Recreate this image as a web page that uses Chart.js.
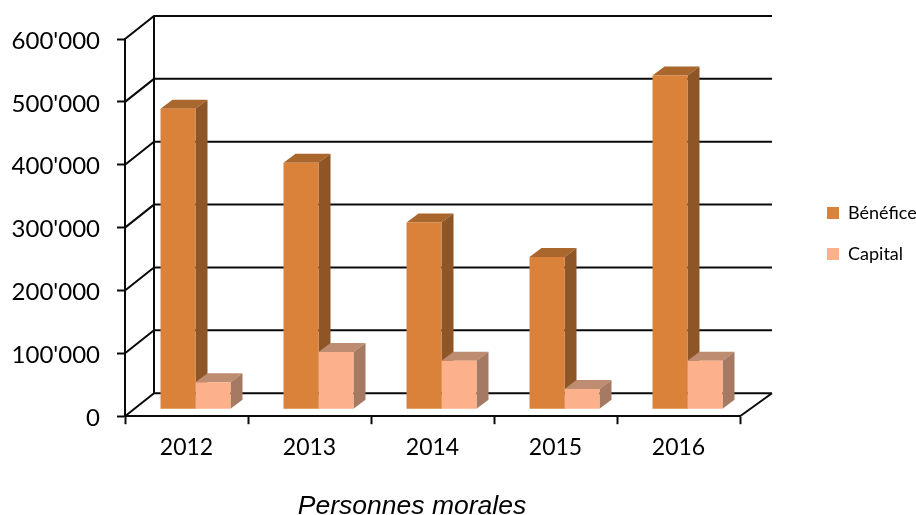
<!DOCTYPE html>
<html><head><meta charset="utf-8">
<style>html,body{margin:0;padding:0;background:#fff}#w{width:916px;height:515px}</style>
<script src="https://cdn.jsdelivr.net/npm/chart.js@4"></script>
</head><body><div id="w"><canvas id="c"></canvas></div>
<script>
const categories = ['2012','2013','2014','2015','2016'];
const benefice = [478000,392000,297000,242000,531000];
const capital = [43000,91000,77000,32000,77000];
const seriesNames = ['Bénéfice','Capital'];
const yTicks = [0,100000,200000,300000,400000,500000,600000];
const xTitle = 'Personnes morales';

const INK='#0a0a0a';
const fronts=['#DA8239','#FDB18B'];
const tops=['#A9662D','#BE8C70'];
const sides=['#8E5526','#A67A62'];
const WALL={dx:29,dy:23,rightDx:32};
const BAR={dx:12,dy:9,shiftX:9,shiftY:7};

const frame3d={
  id:'frame3d',
  afterLayout(chart){
    const l=chart.legend;
    if(l){const w=l.width,h=l.height;l.left=804;l.right=804+w;l.top=181;l.bottom=181+h;}
    const t=chart.titleBlock;
    if(t){const h=t.height;t.left=212;t.right=612;t.top=491;t.bottom=491+h;}
  },
  beforeDatasetsDraw(chart){
    const {ctx,scales:{x,y},chartArea:a}=chart;
    ctx.save();
    ctx.strokeStyle=INK;ctx.lineWidth=2;ctx.lineCap='butt';
    const L=a.left,R=a.right,B=WALL;
    ctx.beginPath();
    yTicks.forEach(v=>{
      const py=y.getPixelForValue(v);
      ctx.moveTo(L,py);ctx.lineTo(L+B.dx,py-B.dy);
      ctx.lineTo(R+B.rightDx,py-B.dy);
    });
    ctx.moveTo(L+B.dx,y.getPixelForValue(0)-B.dy);
    ctx.lineTo(L+B.dx,y.getPixelForValue(600000)-B.dy);
    ctx.moveTo(R,y.getPixelForValue(0));
    ctx.lineTo(R+B.rightDx,y.getPixelForValue(0)-B.dy);
    ctx.stroke();
    ctx.translate(BAR.shiftX,-BAR.shiftY);
    [0,1].forEach(ds=>{
      chart.getDatasetMeta(ds).data.forEach(el=>{
        const p=el.getProps(['x','y','base','width'],true);
        const x0=p.x-p.width/2,x1=p.x+p.width/2;
        ctx.fillStyle=tops[ds];
        ctx.beginPath();ctx.moveTo(x0,p.y);ctx.lineTo(x0+BAR.dx,p.y-BAR.dy);ctx.lineTo(x1+BAR.dx,p.y-BAR.dy);ctx.lineTo(x1,p.y);ctx.closePath();ctx.fill();
        ctx.fillStyle=sides[ds];
        ctx.beginPath();ctx.moveTo(x1,p.y);ctx.lineTo(x1+BAR.dx,p.y-BAR.dy);ctx.lineTo(x1+BAR.dx,p.base-BAR.dy);ctx.lineTo(x1,p.base);ctx.closePath();ctx.fill();
      });
    });
    ctx.restore();
    ctx.save();
    ctx.translate(BAR.shiftX,-BAR.shiftY);
  },
  afterDatasetsDraw(chart){chart.ctx.restore();}
};

new Chart(document.getElementById('c'),{
  type:'bar',
  data:{labels:categories,datasets:[
    {label:seriesNames[0],data:benefice,backgroundColor:fronts[0],borderWidth:0},
    {label:seriesNames[1],data:capital,backgroundColor:fronts[1],borderWidth:0}
  ]},
  plugins:[frame3d],
  options:{
    responsive:true,maintainAspectRatio:false,animation:false,
    layout:{padding:{left:0,right:176,top:39,bottom:0}},
    datasets:{bar:{categoryPercentage:0.569,barPercentage:1,clip:false}},
    plugins:{
      tooltip:{enabled:false},
      legend:{position:'chartArea',align:'start',
        labels:{boxWidth:12,boxHeight:12,padding:23,color:'#000',font:{family:'Lato',size:18}}},
      title:{display:true,text:xTitle,position:'bottom',padding:{top:0,bottom:0},color:'#000',
        font:{family:'Liberation Sans',size:26.5,style:'italic',weight:'normal'}}
    },
    scales:{
      x:{
        border:{display:true,color:INK,width:2},
        grid:{display:true,drawOnChartArea:false,drawTicks:true,tickLength:8,tickWidth:2,tickColor:INK,color:INK},
        ticks:{color:'#000',padding:10,font:{family:'Lato',size:23},maxRotation:0},
        afterFit(s){s.height=67;}
      },
      y:{
        min:0,max:600000,
        afterBuildTicks(s){s.ticks=yTicks.map(v=>({value:v}));},
        border:{display:true,color:INK,width:2},
        grid:{display:true,drawOnChartArea:false,drawTicks:true,tickLength:8,tickWidth:2,tickColor:INK,color:INK},
        ticks:{color:'#000',padding:17,labelOffset:2,font:{family:'Lato',size:24},
          callback:v=>String(v).replace(/\B(?=(\d{3})+$)/g,"'")},
        afterFit(s){s.width=125;}
      }
    }
  }
});
</script></body></html>
